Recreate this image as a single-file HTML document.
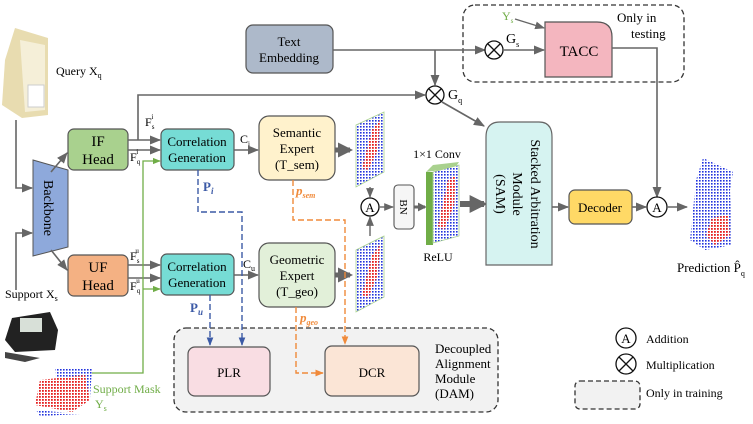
<!DOCTYPE html>
<html><head><meta charset="utf-8"><style>
html,body{margin:0;padding:0;background:#fff;}
svg{display:block;font-family:"Liberation Serif",serif;}
</style></head><body>
<svg width="753" height="424" viewBox="0 0 753 424" xmlns="http://www.w3.org/2000/svg">
<defs>
<marker id="ar" viewBox="0 0 10 10" refX="9" refY="5" markerWidth="7" markerHeight="7" orient="auto"><path d="M0,1 L10,5 L0,9 z" fill="#666"/></marker>
<marker id="ag" viewBox="0 0 10 10" refX="9" refY="5" markerWidth="6" markerHeight="6" orient="auto"><path d="M0,1 L10,5 L0,9 z" fill="#70ad47"/></marker>
<marker id="ab" viewBox="0 0 10 10" refX="9" refY="5" markerWidth="6" markerHeight="6" orient="auto"><path d="M0,1 L10,5 L0,9 z" fill="#3c5aa6"/></marker>
<marker id="ao" viewBox="0 0 10 10" refX="9" refY="5" markerWidth="6" markerHeight="6" orient="auto"><path d="M0,1 L10,5 L0,9 z" fill="#f08a3a"/></marker>
<marker id="at" viewBox="0 0 10 10" refX="8" refY="5" markerWidth="3" markerHeight="3" orient="auto"><path d="M0,0 L10,5 L0,10 z" fill="#666"/></marker>
<pattern id="dots" width="3" height="3" patternUnits="userSpaceOnUse"><rect width="3" height="3" fill="#fff"/><rect width="1.6" height="1.6" fill="#2233dd"/></pattern>
<pattern id="rdots" width="3" height="3" patternUnits="userSpaceOnUse"><rect width="3" height="3" fill="#fff"/><rect width="1.8" height="1.8" fill="#e52020"/></pattern>
</defs>

<rect x="463" y="5" width="221" height="77" rx="12" fill="none" stroke="#333" stroke-width="1.3" stroke-dasharray="5,3"/>
<text x="617" y="22" font-size="13">Only in</text>
<text x="631" y="38" font-size="13">testing</text>

<rect x="174" y="328" width="324" height="84" rx="12" fill="#f2f2f2" stroke="#333" stroke-width="1.3" stroke-dasharray="5,3"/>
<text x="435" y="353" font-size="13">Decoupled</text>
<text x="435" y="368" font-size="13">Alignment</text>
<text x="435" y="383" font-size="13">Module</text>
<text x="435" y="398" font-size="13">(DAM)</text>
<rect x="188" y="347" width="82" height="49" rx="7" fill="#f9dde3" stroke="#555" stroke-width="1.2"/>
<text x="229" y="377" font-size="13" text-anchor="middle">PLR</text>
<rect x="325" y="346" width="94" height="50" rx="7" fill="#fbe5d6" stroke="#555" stroke-width="1.2"/>
<text x="372" y="377" font-size="13" text-anchor="middle">DCR</text>

<path d="M15,28 L48,38 L48,115 L22,118 L2,105 L5,60 Z" fill="#e8dcb0"/>
<path d="M20,40 L45,45 L45,110 L25,112 Z" fill="#f5efd8"/>
<rect x="28" y="85" width="16" height="22" fill="#fff" stroke="#ccc"/>
<text x="56" y="75" font-size="12">Query X<tspan font-size="8" dy="3">q</tspan></text>

<text x="5" y="298" font-size="12">Support X<tspan font-size="8" dy="3">s</tspan></text>
<path d="M12,318 L50,312 L58,330 L55,350 L15,352 L5,340 Z" fill="#222"/>
<rect x="20" y="318" width="22" height="14" fill="#d8e0d8"/>
<path d="M5,352 L40,358 L25,362 L5,358Z" fill="#444"/>

<path d="M55,368 L92,368 L90,398 L58,400Z" fill="url(#dots)"/>
<path d="M40,380 L85,375 L90,400 L72,412 L35,405Z" fill="url(#rdots)"/>
<path d="M36,410 L80,414 L40,416Z" fill="url(#dots)"/>
<text x="93" y="393" font-size="12" fill="#70ad47">Support Mask</text>
<text x="95" y="408" font-size="12" fill="#70ad47">Y<tspan font-size="8" dy="3">s</tspan></text>

<path d="M33,160 L68,170 L68,247 L33,256 Z" fill="#8ea9db" stroke="#555" stroke-width="1"/>
<text transform="translate(44,208) rotate(90)" font-size="14" text-anchor="middle">Backbone</text>
<path d="M16,120 L16,188 L32,188" fill="none" stroke="#666" stroke-width="1.6" marker-end="url(#ar)"/>
<path d="M16,290 L16,233 L32,233" fill="none" stroke="#666" stroke-width="1.6" marker-end="url(#ar)"/>
<path d="M51,172 L67,153" stroke="#666" stroke-width="1.6" marker-end="url(#ar)"/>
<path d="M51,250 L67,270" stroke="#666" stroke-width="1.6" marker-end="url(#ar)"/>

<rect x="68" y="129" width="60" height="41" rx="6" fill="#a9d18e" stroke="#555" stroke-width="1.2"/>
<text x="98" y="146" font-size="15" text-anchor="middle">IF</text>
<text x="98" y="164" font-size="15" text-anchor="middle">Head</text>
<rect x="68" y="255" width="60" height="41" rx="6" fill="#f4b183" stroke="#555" stroke-width="1.2"/>
<text x="98" y="272" font-size="15" text-anchor="middle">UF</text>
<text x="98" y="290" font-size="15" text-anchor="middle">Head</text>

<rect x="161" y="129" width="73" height="41" rx="6" fill="#76dcd5" stroke="#555" stroke-width="1.2"/>
<text x="197" y="146" font-size="13" text-anchor="middle">Correlation</text>
<text x="197" y="162" font-size="13" text-anchor="middle">Generation</text>
<rect x="161" y="254" width="73" height="41" rx="6" fill="#76dcd5" stroke="#555" stroke-width="1.2"/>
<text x="197" y="271" font-size="13" text-anchor="middle">Correlation</text>
<text x="197" y="287" font-size="13" text-anchor="middle">Generation</text>

<path d="M128,140 L160,140" stroke="#666" stroke-width="1.6" marker-end="url(#ar)"/>
<path d="M128,150 L160,150" stroke="#666" stroke-width="1.6" marker-end="url(#ar)"/>
<path d="M138,140 L138,95 L425,95" fill="none" stroke="#666" stroke-width="1.6" marker-end="url(#ar)"/>
<text x="145" y="126" font-size="12">F<tspan font-size="7" dy="3">s</tspan><tspan font-size="7" dy="-10" dx="-3">i</tspan></text>
<text x="130" y="161" font-size="12">F<tspan font-size="7" dy="3">q</tspan><tspan font-size="7" dy="-10" dx="-4">i</tspan></text>
<path d="M128,265 L160,265" stroke="#666" stroke-width="1.6" marker-end="url(#ar)"/>
<path d="M128,278 L160,278" stroke="#666" stroke-width="1.6" marker-end="url(#ar)"/>
<text x="130" y="260" font-size="12">F<tspan font-size="7" dy="3">s</tspan><tspan font-size="7" dy="-10" dx="-4">u</tspan></text>
<text x="130" y="290" font-size="12">F<tspan font-size="7" dy="3">q</tspan><tspan font-size="7" dy="-10" dx="-4">u</tspan></text>
<path d="M92,373 L143,373 L143,161 L160,161" fill="none" stroke="#70ad47" stroke-width="1.3" marker-end="url(#ag)"/>
<path d="M143,289 L160,289" fill="none" stroke="#70ad47" stroke-width="1.3" marker-end="url(#ag)"/>

<rect x="259" y="116" width="76" height="64" rx="10" fill="#fff2cc" stroke="#555" stroke-width="1.2"/>
<text x="297" y="137" font-size="13" text-anchor="middle">Semantic</text>
<text x="297" y="153" font-size="13" text-anchor="middle">Expert</text>
<text x="297" y="169" font-size="13" text-anchor="middle">(T_sem)</text>
<rect x="259" y="243" width="76" height="64" rx="10" fill="#e2f0d9" stroke="#555" stroke-width="1.2"/>
<text x="297" y="264" font-size="13" text-anchor="middle">Geometric</text>
<text x="297" y="280" font-size="13" text-anchor="middle">Expert</text>
<text x="297" y="296" font-size="13" text-anchor="middle">(T_geo)</text>
<path d="M234,150 L258,150" stroke="#666" stroke-width="1.6" marker-end="url(#ar)"/>
<text x="240" y="143" font-size="12">C<tspan font-size="7" dy="3">i</tspan></text>
<path d="M234,275 L258,275" stroke="#666" stroke-width="1.6" marker-end="url(#ar)"/>
<text x="243" y="268" font-size="12">C<tspan font-size="8" dy="3">u</tspan></text>

<path d="M335,150 L350,150" stroke="#666" stroke-width="5" marker-end="url(#at)"/>
<path d="M335,275 L350,275" stroke="#666" stroke-width="5" marker-end="url(#at)"/>
<path d="M460,204 L484,204" stroke="#666" stroke-width="6" marker-end="url(#at)"/>

<path d="M356,125 L384,112 L384,172 L356,187 Z" fill="url(#dots)" stroke="#a9d18e" stroke-width="0.8"/>
<path d="M372,130 L380,120 L378,150 L368,170 L362,168 Z" fill="url(#rdots)"/>
<path d="M356,250 L384,236 L384,297 L356,312 Z" fill="url(#dots)" stroke="#a9d18e" stroke-width="0.8"/>
<path d="M372,255 L380,245 L378,275 L368,298 L362,295 Z" fill="url(#rdots)"/>
<path d="M370,187 L370,197" stroke="#666" stroke-width="1.4" marker-end="url(#ar)"/>
<path d="M370,236 L370,217" stroke="#666" stroke-width="1.4" marker-end="url(#ar)"/>
<circle cx="370" cy="207" r="9" fill="#fff" stroke="#111" stroke-width="1.3"/>
<text x="370" y="212" font-size="13" text-anchor="middle">A</text>
<path d="M379,207 L393,207" stroke="#666" stroke-width="1.4" marker-end="url(#ar)"/>
<rect x="394" y="185" width="20" height="44" rx="4" fill="#f6f6f6" stroke="#555" stroke-width="1.1"/>
<text transform="translate(400,207) rotate(90)" font-size="11" text-anchor="middle">BN</text>
<path d="M414,207 L425,207" stroke="#666" stroke-width="3" marker-end="url(#at)"/>
<rect x="426" y="172" width="7" height="73" fill="#70ad47"/>
<path d="M426,172 L433,165 L459,162 L455,168 Z" fill="#a9d18e"/>
<path d="M433,172 L459,165 L459,236 L433,243 Z" fill="url(#dots)" stroke="#a9d18e" stroke-width="0.8"/>
<path d="M448,180 L456,175 L454,205 L444,230 L438,226 Z" fill="url(#rdots)"/>
<text x="437" y="158" font-size="12" text-anchor="middle">1×1 Conv</text>
<text x="438" y="261" font-size="12" text-anchor="middle">ReLU</text>

<rect x="246" y="25" width="87" height="48" rx="7" fill="#adb9ca" stroke="#555" stroke-width="1.2"/>
<text x="289" y="46" font-size="13" text-anchor="middle">Text</text>
<text x="289" y="62" font-size="13" text-anchor="middle">Embedding</text>
<path d="M333,50 L485,50" stroke="#666" stroke-width="1.6" marker-end="url(#ar)"/>
<path d="M435,50 L435,85" stroke="#666" stroke-width="1.6" marker-end="url(#ar)"/>
<circle cx="435" cy="95" r="9" fill="#fff" stroke="#111" stroke-width="1.3"/>
<path d="M429,89 L441,101 M441,89 L429,101" stroke="#111" stroke-width="1.3"/>
<text x="448" y="99" font-size="14">G<tspan font-size="8" dy="4">q</tspan></text>
<path d="M442,102 L484,126" stroke="#666" stroke-width="1.6" marker-end="url(#ar)"/>
<circle cx="494" cy="50" r="9" fill="#fff" stroke="#111" stroke-width="1.3"/>
<path d="M488,44 L500,56 M500,44 L488,56" stroke="#111" stroke-width="1.3"/>
<text x="506" y="43" font-size="14">G<tspan font-size="8" dy="4">s</tspan></text>
<path d="M503,50 L544,50" stroke="#666" stroke-width="1.6" marker-end="url(#ar)"/>
<text x="502" y="20" font-size="12" fill="#70ad47">Y<tspan font-size="7" dy="3">s</tspan></text>
<path d="M515,19 L544,28" stroke="#666" stroke-width="1.4" marker-end="url(#ar)"/>
<path d="M545,22 L597,22 Q612,22 612,37 L612,77 L545,77 Z" fill="#f4b6bf" stroke="#555" stroke-width="1.2"/>
<text x="579" y="56" font-size="15" text-anchor="middle">TACC</text>
<path d="M612,48 L657,48 L657,197" fill="none" stroke="#666" stroke-width="1.6" marker-end="url(#ar)"/>

<path d="M486,137 Q486,122 500,122 L539,122 Q552,122 552,137 L552,265 L486,265 Z" fill="#d6f3f1" stroke="#666" stroke-width="1.2"/>
<text transform="translate(531,194) rotate(90)" font-size="14" text-anchor="middle">Stacked Arbitration</text>
<text transform="translate(513,194) rotate(90)" font-size="14" text-anchor="middle">Module</text>
<text transform="translate(496,194) rotate(90)" font-size="14" text-anchor="middle">(SAM)</text>
<path d="M552,207 L568,207" stroke="#666" stroke-width="1.6" marker-end="url(#ar)"/>
<rect x="569" y="190" width="63" height="34" rx="6" fill="#ffd966" stroke="#555" stroke-width="1.2"/>
<text x="600" y="212" font-size="13" text-anchor="middle">Decoder</text>
<path d="M632,207 L646,207" stroke="#666" stroke-width="1.6" marker-end="url(#ar)"/>
<circle cx="657" cy="207" r="10" fill="#fff" stroke="#111" stroke-width="1.3"/>
<text x="657" y="212" font-size="13" text-anchor="middle">A</text>
<path d="M667,207 L687,207" stroke="#666" stroke-width="1.6" marker-end="url(#ar)"/>

<path d="M703,158 L733,172 L730,190 L732,245 L705,250 L690,240 L696,180 Z" fill="url(#dots)"/>
<path d="M712,218 L728,215 L730,235 L715,245 L706,235 Z" fill="url(#rdots)"/>
<text x="677" y="272" font-size="13">Prediction P̂<tspan font-size="8" dy="4">q</tspan></text>

<path d="M198,170 L198,212 L242,212 L242,345" fill="none" stroke="#3c5aa6" stroke-width="1.4" stroke-dasharray="6,3" marker-end="url(#ab)"/>
<path d="M210,295 L210,345" fill="none" stroke="#3c5aa6" stroke-width="1.4" stroke-dasharray="6,3" marker-end="url(#ab)"/>
<text x="203" y="191" font-size="13" fill="#3c5aa6" font-weight="bold">P<tspan font-size="9" dy="3" font-style="italic">i</tspan></text>
<text x="190" y="312" font-size="13" fill="#3c5aa6" font-weight="bold">P<tspan font-size="9" dy="3" font-style="italic">u</tspan></text>
<path d="M293,180 L293,220 L345,220 L345,344" fill="none" stroke="#f08a3a" stroke-width="1.4" stroke-dasharray="6,3" marker-end="url(#ao)"/>
<path d="M296,307 L296,373 L323,373" fill="none" stroke="#f08a3a" stroke-width="1.4" stroke-dasharray="6,3" marker-end="url(#ao)"/>
<text x="296" y="195" font-size="13" fill="#f08a3a" font-style="italic" font-weight="bold">p<tspan font-size="8" dy="3">sem</tspan></text>
<text x="300" y="322" font-size="13" fill="#f08a3a" font-style="italic" font-weight="bold">p<tspan font-size="8" dy="3">geo</tspan></text>

<circle cx="626" cy="338" r="10" fill="#fff" stroke="#111" stroke-width="1.3"/>
<text x="626" y="343" font-size="13" text-anchor="middle">A</text>
<text x="646" y="343" font-size="12">Addition</text>
<circle cx="626" cy="364" r="10" fill="#fff" stroke="#111" stroke-width="1.3"/>
<path d="M619,357 L633,371 M633,357 L619,371" stroke="#111" stroke-width="1.3"/>
<text x="646" y="369" font-size="12">Multiplication</text>
<rect x="575" y="381" width="65" height="28" rx="5" fill="#f2f2f2" stroke="#333" stroke-width="1.3" stroke-dasharray="5,3"/>
<text x="646" y="397" font-size="12">Only in training</text>
</svg>
</body></html>
